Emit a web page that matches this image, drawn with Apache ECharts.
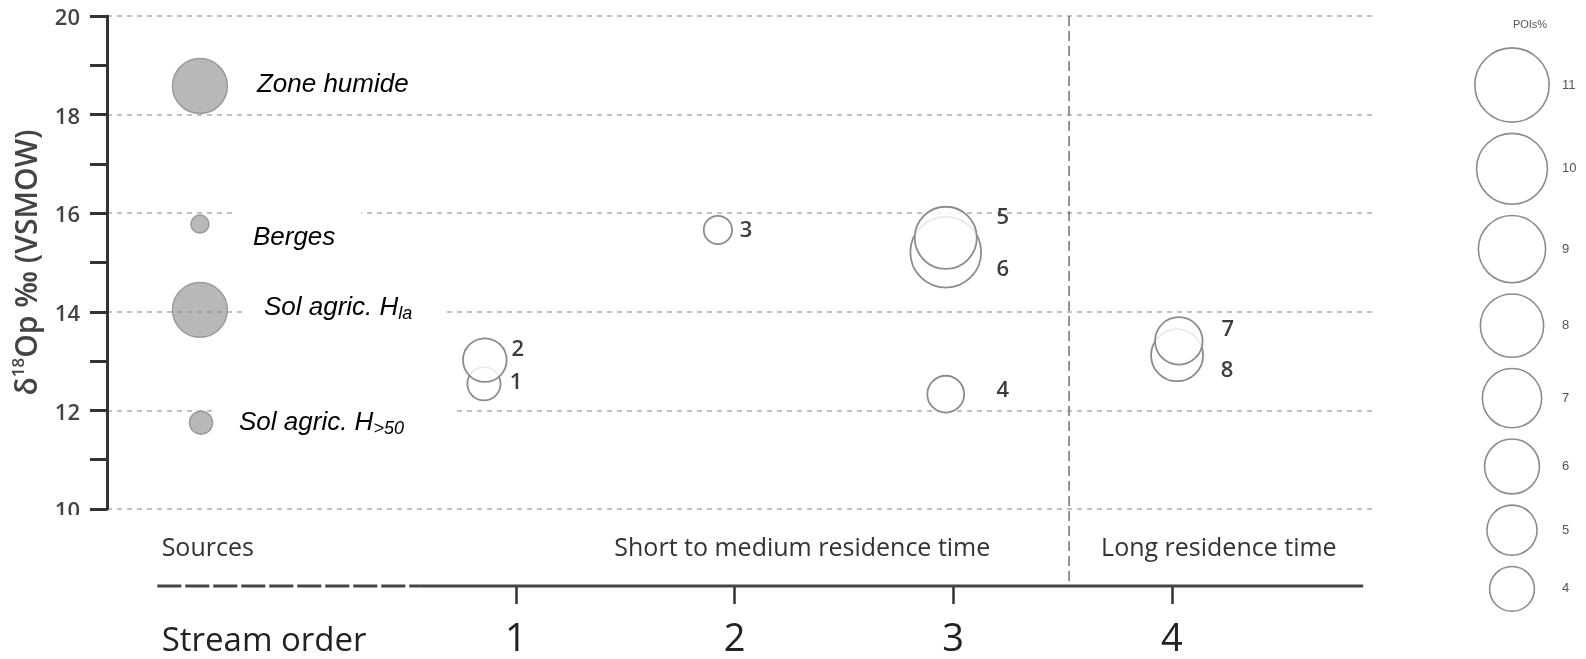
<!DOCTYPE html>
<html><head><meta charset="utf-8">
<script src="https://cdn.jsdelivr.net/npm/echarts@6/dist/echarts.min.js"></script>
<style>html,body{margin:0;padding:0;background:#fff}#c{width:1586px;height:659px}</style>
</head><body><div id="c"></div>
<script>
// ---------------- data ----------------
const sourceNames = ['Zone humide', 'Berges', 'Sol agric. H_la', 'Sol agric. H_>50'];
const sourceX = [-0.445, -0.445, -0.445, -0.44];
const sourceD18O = [18.58, 15.78, 14.04, 11.75];
const sourcePOIs = [6.0, 0.65, 6.0, 1.05];

const streamIds = ['1', '2', '3', '4', '5', '6', '7', '8'];
const streamOrder = [0.854, 0.858, 1.924, 2.966, 2.966, 2.966, 4.032, 4.024];
const streamD18O = [12.54, 13.02, 15.66, 12.33, 15.50, 15.21, 13.41, 13.12];
const streamPOIs = [2.2, 3.8, 1.6, 2.7, 7.7, 10.0, 4.5, 5.4];

const xTickValues = [1, 2, 3, 4];
const yMin = 10, yMax = 20, yStep = 2;
const legendPOIs = [11, 10, 9, 8, 7, 6, 5, 4];
const groupLabels = ['Sources', 'Short to medium residence time', 'Long residence time'];
const xAxisTitle = 'Stream order';
const legendTitle = 'POIs%';

// ---------------- styling / layout ----------------
const FONT = 'Open Sans';
const X_OFFSET = 77;
const sizeOf = v => 22.4 * Math.sqrt(v);

function richName(name) {
  const p = name.split('_');
  return p.length > 1 ? '{t|' + p[0] + '}{s|' + p[1] + '}' : '{t|' + p[0] + '}';
}
const sourceLabelStyle = [
  { offset: [57, -1] },
  { offset: [32, 9], backgroundColor: '#fff', padding: [22, 26, 12, 21] },
  { offset: [43, -2], backgroundColor: '#fff', padding: [8, 33, 8, 21] },
  { offset: [16, -6], backgroundColor: '#fff', padding: [20, 49, 8, 22] }
];
const streamLabelOffsets = [[32, -1], [33, -10], [28, 1], [57, -3], [57, -20], [57, 18], [49, -11], [50, 16]];

const sourceData = sourceNames.map((n, i) => ({
  value: [sourceX[i], sourceD18O[i], sourcePOIs[i]],
  label: Object.assign({ formatter: richName(n) }, sourceLabelStyle[i])
}));
const order = streamIds.map((_, i) => i).sort((a, b) => streamD18O[a] - streamD18O[b]);
const streamData = order.map(i => ({
  value: [streamOrder[i], streamD18O[i], streamPOIs[i]],
  label: { formatter: streamIds[i], offset: streamLabelOffsets[i] }
}));

const chart = echarts.init(document.getElementById('c'));
const option = {
  animation: false,
  backgroundColor: '#fff',
  grid: { left: 107, top: 16, width: 1266, height: 493, containLabel: false, outerBoundsMode: 'none' },
  xAxis: {
    type: 'value', min: -0.87, max: 4.92, offset: X_OFFSET,
    axisLine: { show: false, onZero: false },
    splitLine: { show: false },
    axisTick: { show: true, customValues: xTickValues, length: 18, lineStyle: { color: '#333', width: 2.5 } },
    axisLabel: { show: true, customValues: xTickValues, fontFamily: FONT, fontSize: 38, color: '#222', margin: 35 }
  },
  yAxis: {
    type: 'value', min: yMin, max: yMax, interval: yStep,
    name: '{n|δ}{s|18}{n|Op ‰ (VSMOW)}', nameLocation: 'middle', nameGap: 44, nameRotate: 90,
    nameTextStyle: {
      rich: {
        n: { fontFamily: FONT, fontSize: 30, color: '#444', fontWeight: 600, lineHeight: 36 },
        s: { fontFamily: FONT, fontSize: 17, color: '#444', fontWeight: 600, lineHeight: 12, verticalAlign: 'top' }
      }
    },
    axisLine: { show: true, onZero: false, lineStyle: { color: '#333', width: 3 } },
    axisTick: { show: true, length: 17, lineStyle: { color: '#333', width: 3 } },
    minorTick: { show: true, splitNumber: 2, length: 17, lineStyle: { color: '#333', width: 3 } },
    splitLine: { show: true, lineStyle: { color: '#c2c2c2', width: 2, type: [5, 5] } },
    axisLabel: { fontFamily: FONT, fontSize: 22, color: '#444', fontWeight: 600, margin: 27, verticalAlign: 'top', lineHeight: 6 }
  },
  series: [
    {
      type: 'scatter', name: 'Sources', data: sourceData,
      symbolSize: v => sizeOf(v[2]),
      itemStyle: { color: 'rgba(140,140,140,0.62)', borderColor: '#9a9a9a', borderWidth: 1.5, opacity: 1 },
      label: {
        show: true, position: 'inside', align: 'left', verticalAlign: 'middle',
        rich: {
          t: { fontFamily: 'Liberation Sans', fontStyle: 'italic', fontSize: 26, color: '#000', lineHeight: 30 },
          s: { fontFamily: 'Liberation Sans', fontStyle: 'italic', fontSize: 18, color: '#000', lineHeight: 8, verticalAlign: 'bottom' }
        }
      },
      emphasis: { disabled: true }
    },
    {
      type: 'scatter', name: 'Streams', data: streamData,
      symbolSize: v => sizeOf(v[2]),
      itemStyle: { color: 'rgba(255,255,255,0.82)', borderColor: '#8c8c8c', borderWidth: 1.8, opacity: 1 },
      label: {
        show: true, position: 'inside', align: 'center', verticalAlign: 'middle',
        fontFamily: FONT, fontSize: 22, fontWeight: 600, color: '#3c3c3c'
      },
      emphasis: { disabled: true }
    }
  ]
};
chart.setOption(option);

// ---------- decorations positioned from the axes ----------
const px = (x, y) => chart.convertToPixel({ xAxisIndex: 0, yAxisIndex: 0 }, [x, y]);
const axisY = px(0, yMin)[1] + X_OFFSET;
const xA = px(-0.64, yMin)[0], xB = px(0.57, yMin)[0], xC = px(4.875, yMin)[0];
const xDiv = px(3.53, yMin)[0];
const topY = px(0, yMax)[1];
const textY = px(0, yMin)[1] + 40;

const g = [];
g.push({ type: 'line', z: 50, shape: { x1: xA, y1: axisY, x2: xB, y2: axisY }, style: { stroke: '#444', lineWidth: 3, lineDash: [24, 4] } });
g.push({ type: 'line', z: 50, shape: { x1: xB, y1: axisY, x2: xC, y2: axisY }, style: { stroke: '#444', lineWidth: 3 } });
g.push({ type: 'line', z: 50, shape: { x1: xDiv, y1: topY, x2: xDiv, y2: axisY }, style: { stroke: '#7a7a7a', lineWidth: 1.6, lineDash: [10, 5] } });
// white patch clipping the lowest tick label, as in the figure
g.push({ type: 'rect', z: 60, shape: { x: 0, y: px(0, yMin)[1] + 6, width: 86, height: 60 }, style: { fill: '#fff' } });

const grpStyle = { fontFamily: FONT, fontSize: 25, fill: '#333', verticalAlign: 'middle' };
g.push({ type: 'text', z: 70, x: px(-0.62, yMin)[0], y: textY, style: Object.assign({ text: groupLabels[0], align: 'left' }, grpStyle) });
g.push({ type: 'text', z: 70, x: px(2.31, yMin)[0], y: textY, style: Object.assign({ text: groupLabels[1], align: 'center' }, grpStyle) });
g.push({ type: 'text', z: 70, x: px(4.215, yMin)[0], y: textY, style: Object.assign({ text: groupLabels[2], align: 'center' }, grpStyle) });
g.push({ type: 'text', z: 70, x: px(-0.62, yMin)[0], y: axisY + 56, style: { text: xAxisTitle, align: 'left', verticalAlign: 'middle', fontFamily: FONT, fontSize: 33, fill: '#222' } });

// size legend
const LX = 1512, LGAP = 11.25;
let cy = 85;
g.push({ type: 'text', z: 70, x: 1530, y: 25, style: { text: legendTitle, align: 'center', verticalAlign: 'middle', fontFamily: 'Liberation Sans', fontSize: 11, fill: '#555' } });
legendPOIs.forEach((v, i) => {
  const d = sizeOf(v);
  if (i > 0) cy += (sizeOf(legendPOIs[i - 1]) + d) / 2 + LGAP;
  g.push({ type: 'circle', z: 70, shape: { cx: LX, cy: cy, r: d / 2 }, style: { fill: '#fff', stroke: '#8c8c8c', lineWidth: 1.6 } });
  g.push({ type: 'text', z: 70, x: 1562, y: cy, style: { text: String(v), align: 'left', verticalAlign: 'middle', fontFamily: 'Liberation Sans', fontSize: 13, fill: '#555' } });
});
chart.setOption({ graphic: g });
</script>
</body></html>
